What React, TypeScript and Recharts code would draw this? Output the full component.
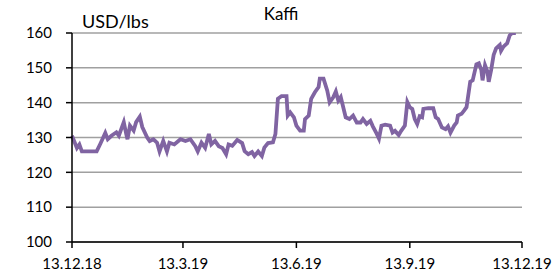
import { LineChart, Line, XAxis, YAxis, CartesianGrid } from "recharts"

// days since 13.12.2018 and coffee price (USD/lbs)
const START = Date.UTC(2018, 11, 13)
const days = [
  0, 4, 6, 8, 20, 23, 27, 29, 32, 36, 38, 42, 44, 45, 47, 50, 52, 55, 57, 61,
  63, 66, 69, 71, 74, 77, 79, 83, 88, 92, 96, 100, 102, 105, 108, 111, 113, 116, 119, 122,
  125, 127, 130, 134, 138, 140, 143, 146, 148, 151, 154, 156, 159, 163, 165, 167, 170, 174, 175, 177,
  180, 182, 185, 188, 189, 192, 194, 197, 200, 201, 204, 207, 209, 212, 214, 216, 218, 220, 222, 225,
  228, 231, 234, 236, 239, 242, 244, 247, 249, 251, 254, 258, 260, 262, 265, 267, 270, 272, 274, 276,
  278, 280, 282, 284, 285, 289, 293, 295, 297, 300, 303, 305, 307, 310, 312, 313, 316, 318, 320, 323,
  325, 328, 330, 332, 333, 335, 337, 338, 340, 342, 344, 347, 348, 350, 353, 355, 357, 360,
]
const prices = [
  130.5, 127, 128, 126, 126, 128.2, 131.3, 129.5, 130.5, 131.5, 130.5, 134.4, 131, 129.5, 133.4, 132, 134.4, 136, 133, 130,
  129, 129.5, 128.5, 126, 129, 126, 128.5, 128, 129.5, 129, 129.5, 127.5, 126, 128.5, 127, 131, 128, 129, 127.5, 127,
  125.2, 128, 127.6, 129.3, 128.4, 126.1, 125.2, 125.8, 124.7, 126, 124.7, 127.1, 128.4, 128.6, 131, 141.1, 141.9, 141.9, 136.3, 137.2,
  135.8, 133.4, 132, 132, 135.3, 136.3, 141.1, 143, 144.5, 146.9, 146.9, 143.5, 140.1, 141.6, 143.2, 140.6, 141.6, 138.7, 135.8, 135.3,
  136.3, 134.3, 134.3, 135.3, 133.9, 134.8, 133.2, 131.2, 129.7, 133.4, 133.7, 133.4, 131.4, 131.9, 130.7, 131.9, 133.4, 140.2, 138.7, 138.2,
  135.3, 133.9, 136.1, 135.8, 138.2, 138.4, 138.4, 135.8, 135.3, 132.9, 132.4, 133.2, 131.4, 133.4, 134.3, 136.3, 136.8, 137.7, 138.7, 146,
  146.4, 151, 151.3, 149.4, 146.4, 150.8, 148.9, 146, 149.4, 153.7, 155.6, 156.6, 154.9, 156.1, 157.1, 159.3, 160, 160,
]

const xTicks = [0, 90, 182, 274, 365]
const yTicks = [100, 110, 120, 130, 140, 150, 160]

const data = days.map((d, i) => ({ day: d, price: prices[i] }))

const formatDate = (d: number) => {
  const dt = new Date(START + d * 86400000)
  return `${dt.getUTCDate()}.${dt.getUTCMonth() + 1}.${String(dt.getUTCFullYear()).slice(2)}`
}

export default function App() {
  return (
    <div style={{ position: "absolute", left: 0, top: 0, width: 560, height: 277, background: "#fff", fontFamily: "Lato, sans-serif" }}>
      <div style={{ position: "absolute", left: 231, top: 3, width: 100, textAlign: "center", fontSize: 17, color: "#000" }}>
        Kaffi
      </div>
      <div style={{ position: "absolute", left: 82, top: 11, fontSize: 18, lineHeight: "20px", color: "#000" }}>
        USD/lbs
      </div>
      <LineChart width={560} height={277} data={data} margin={{ top: 33, right: 38, bottom: 0, left: 0 }}>
        <CartesianGrid vertical={false} stroke="#a0a0a0" strokeWidth={1.5} />
        <XAxis
          dataKey="day"
          type="number"
          domain={[0, 365]}
          ticks={xTicks}
          interval={0}
          tickFormatter={formatDate}
          height={35}
          stroke="#000"
          strokeWidth={1.5}
          tickSize={6}
          tickMargin={10}
          tick={{ fill: "#000", fontSize: 15 }}
        />
        <YAxis
          type="number"
          domain={[100, 160]}
          ticks={yTicks}
          interval={0}
          allowDataOverflow
          width={72}
          stroke="#000"
          strokeWidth={1.5}
          tickSize={6}
          tickMargin={14}
          tick={{ fill: "#000", fontSize: 15 }}
        />
        <Line
          type="linear"
          dataKey="price"
          stroke="#8064a2"
          strokeWidth={3.8}
          dot={false}
          isAnimationActive={false}
        />
      </LineChart>
    </div>
  )
}
